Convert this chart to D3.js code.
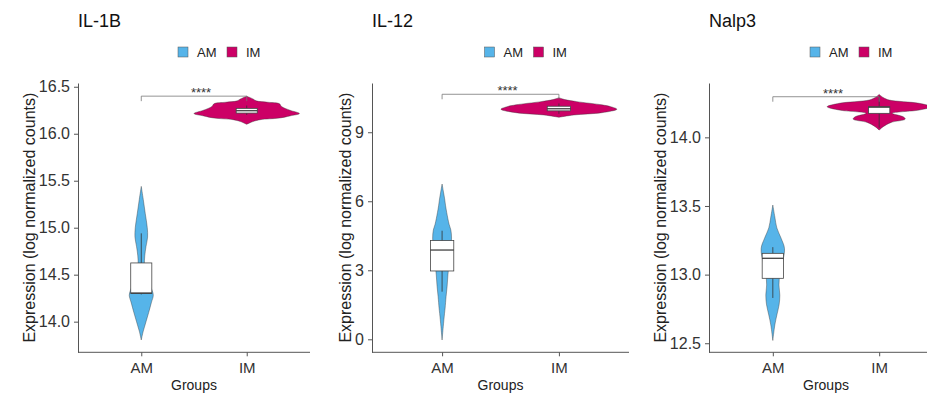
<!DOCTYPE html>
<html lang="en">
<head>
<meta charset="UTF-8" />
<title>Expression violins</title>
<style>
  body { margin: 0; background: #fff; }
  svg { display: block; font-family: Arial, "Liberation Sans", sans-serif; }
  .axis path, .axis line { stroke: #555; }
  .axis text { fill: #333; }
</style>
</head>
<body>
<script src="https://cdn.jsdelivr.net/npm/d3@7"></script>
<script>
const genes = ["IL-1B", "IL-12", "Nalp3"];
const groups = ["AM", "IM"];
const groupColors = ["#56B4E9", "#CC0066"];

const yDomains = [[13.674, 16.54], [-0.565, 11.14], [12.434, 14.396]];
const yTicks = [[14.0, 14.5, 15.0, 15.5, 16.0, 16.5], [0, 3, 6, 9], [12.5, 13.0, 13.5, 14.0]];
const yFormats = [".1f", "d", ".1f"];

// violin outlines, [expression, half width in group units]
const violinAM = [
  [[13.805, 0], [13.9, 0.019], [14.0, 0.045], [14.1, 0.071], [14.2, 0.095], [14.28, 0.114], [14.33, 0.104],
   [14.4, 0.076], [14.5, 0.04], [14.6, 0.03], [14.7, 0.033], [14.8, 0.045], [14.9, 0.06], [15.0, 0.057],
   [15.15, 0.038], [15.3, 0.019], [15.44, 0]],
  [[-0.03, 0], [0.55, 0.01], [1.13, 0.021], [1.36, 0.026], [1.85, 0.034], [2.3, 0.043], [2.8, 0.05],
   [3.3, 0.06], [3.9, 0.073], [4.4, 0.081], [4.75, 0.075], [5.0, 0.06], [5.5, 0.04], [5.8, 0.03],
   [6.1, 0.022], [6.4, 0.012], [6.75, 0]],
  [[12.52, 0], [12.633, 0.019], [12.706, 0.038], [12.78, 0.059], [12.85, 0.066], [12.925, 0.058],
   [13.0, 0.066], [13.08, 0.089], [13.19, 0.11], [13.265, 0.078], [13.34, 0.038], [13.42, 0.019], [13.507, 0]]
];
const violinIM = [
  [[16.1, 0], [16.13, 0.06], [16.15, 0.13], [16.167, 0.31], [16.19, 0.41], [16.215, 0.5], [16.25, 0.41],
   [16.29, 0.33], [16.32, 0.31], [16.335, 0.2], [16.35, 0.09], [16.37, 0.06], [16.4, 0]],
  [[9.65, 0], [9.75, 0.128], [9.85, 0.368], [10.0, 0.496], [10.11, 0.444], [10.19, 0.368],
   [10.33, 0.154], [10.42, 0.05], [10.5, 0]],
  [[14.053, 0], [14.078, 0.038], [14.109, 0.113], [14.133, 0.245], [14.15, 0.226], [14.175, 0.122],
   [14.199, 0.376], [14.223, 0.489], [14.248, 0.376], [14.272, 0.094], [14.29, 0.038], [14.313, 0]]
];

// box stats, [lower whisker, q1, median, q3, upper whisker]
const boxAM = [[14.29, 14.3, 14.305, 14.625, 14.94], [2.07, 2.97, 3.88, 4.29, 4.72], [12.83, 12.973, 13.119, 13.155, 13.2]];
const boxIM = [[16.2, 16.22, 16.245, 16.27, 16.3], [9.8, 9.93, 10.02, 10.13, 10.25], [14.07, 14.175, 14.22, 14.223, 14.3]];

const sigY = [16.4, 10.65, 14.296];
const sigLabels = ["****", "****", "****"];

const width = 927, height = 394;
const panelX = [[78, 310], [372, 629], [709, 943]];
const plotTop = 83, plotBottom = 352.3;

const svg = d3.select("body").append("svg")
  .attr("width", width)
  .attr("height", height);

genes.forEach((gene, i) => {
  const [left, right] = panelX[i];
  const x = d3.scalePoint().domain(groups).range([left, right]).padding(0.6);
  const y = d3.scaleLinear().domain(yDomains[i]).range([plotBottom, plotTop]);
  const w = d3.scaleLinear().domain([0, 1]).range([0, x.step()]);
  const g = svg.append("g");

  // title
  g.append("text")
    .attr("x", left).attr("y", 27)
    .attr("font-size", 18).attr("fill", "#111")
    .text(gene);

  // legend
  const lx = (left + right) / 2 - 16;
  groups.forEach((grp, k) => {
    g.append("rect")
      .attr("x", lx + k * 49).attr("y", 47)
      .attr("width", 10).attr("height", 10)
      .attr("fill", groupColors[k]).attr("stroke", "#555").attr("stroke-width", 0.5);
    g.append("text")
      .attr("x", lx + k * 49 + 19).attr("y", 56.7)
      .attr("font-size", 13).attr("fill", "#222")
      .text(grp);
  });

  // violins
  const violins = [violinAM[i], violinIM[i]];
  const boxes = [boxAM[i], boxIM[i]];
  groups.forEach((grp, k) => {
    const cx = x(grp);
    const area = d3.area()
      .curve(d3.curveCatmullRom.alpha(0.5))
      .y(d => y(d[0]))
      .x0(d => cx - w(d[1]))
      .x1(d => cx + w(d[1]));
    g.append("path")
      .datum(violins[k])
      .attr("d", area)
      .attr("fill", groupColors[k])
      .attr("stroke", "#333")
      .attr("stroke-width", 0.4);

    const [lo, q1, med, q3, hi] = boxes[k];
    const bw = w(0.1);
    g.append("line")
      .attr("x1", cx).attr("x2", cx).attr("y1", y(lo)).attr("y2", y(hi))
      .attr("stroke", "#333").attr("stroke-width", 0.8);
    g.append("rect")
      .attr("x", cx - bw).attr("width", 2 * bw)
      .attr("y", y(q3)).attr("height", Math.max(y(q1) - y(q3), 1))
      .attr("fill", "#fff").attr("stroke", "#444").attr("stroke-width", 0.8);
    g.append("line")
      .attr("x1", cx - bw).attr("x2", cx + bw).attr("y1", y(med)).attr("y2", y(med))
      .attr("stroke", "#333").attr("stroke-width", 1.2);
  });

  // significance bracket
  const x1 = x(groups[0]), x2 = x(groups[1]), by = y(sigY[i]);
  g.append("path")
    .attr("d", `M${x1},${by + 5}V${by}H${x2}V${by + 5}`)
    .attr("fill", "none").attr("stroke", "#777").attr("stroke-width", 0.8);
  g.append("text")
    .attr("x", (x1 + x2) / 2 + 7).attr("y", by + 1)
    .attr("text-anchor", "middle").attr("font-size", 13).attr("fill", "#333")
    .text(sigLabels[i]);

  // axes
  const yAxis = g.append("g")
    .attr("class", "axis")
    .attr("transform", `translate(${left},0)`)
    .call(d3.axisLeft(y).tickValues(yTicks[i]).tickFormat(d3.format(yFormats[i]))
      .tickSize(4).tickPadding(4).tickSizeOuter(0));
  yAxis.selectAll("text").attr("font-size", 16);

  const xAxis = g.append("g")
    .attr("class", "axis")
    .attr("transform", `translate(0,${plotBottom})`)
    .call(d3.axisBottom(x).tickSize(4).tickPadding(6).tickSizeOuter(0));
  xAxis.selectAll("text").attr("font-size", 15);
  xAxis.select(".domain").attr("d", `M${left},0H${right}`);

  let maxW = 0;
  yAxis.selectAll("text").each(function () { maxW = Math.max(maxW, this.getComputedTextLength()); });

  // axis titles
  g.append("text")
    .attr("x", (left + right) / 2).attr("y", 389.5)
    .attr("text-anchor", "middle").attr("font-size", 14).attr("fill", "#222")
    .text("Groups");
  const labX = left - 8 - maxW - 4;
  g.append("text")
    .attr("transform", `translate(${labX},${(plotTop + plotBottom) / 2}) rotate(-90)`)
    .attr("text-anchor", "middle").attr("font-size", 16).attr("fill", "#222")
    .text("Expression (log normalized counts)");
});
</script>
</body>
</html>
